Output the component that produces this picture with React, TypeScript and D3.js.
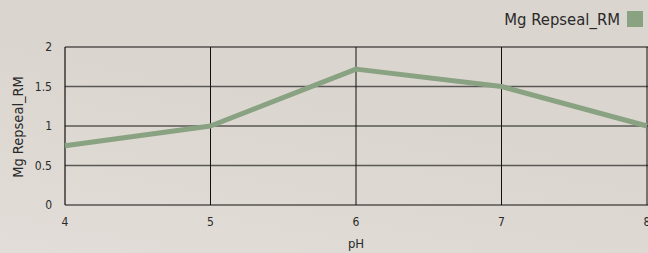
import React, { useEffect, useRef } from "react";
import * as d3 from "d3";

const phValues = [4, 5, 6, 7, 8];
const mgRepseal = [0.75, 1.0, 1.72, 1.5, 1.0];
const yTicks = [0, 0.5, 1, 1.5, 2];
const seriesName = "Mg Repseal_RM";

const W = 648;
const H = 253;
const FONT = "'DejaVu Sans Condensed', 'DejaVu Sans', sans-serif";

const App: React.FC = () => {
  const ref = useRef<SVGSVGElement | null>(null);

  useEffect(() => {
    if (!ref.current) return;
    const svg = d3.select(ref.current);
    svg.selectAll("*").remove();

    const margin = { left: 65, right: 1, top: 47, bottom: 48 };

    const x = d3.scaleLinear().domain([4, 8]).range([margin.left, W - margin.right]);
    const y = d3.scaleLinear().domain([0, 2]).range([H - margin.bottom, margin.top]);

    // background
    const defs = svg.append("defs");
    const grad = defs
      .append("linearGradient")
      .attr("id", "bg")
      .attr("x1", "0")
      .attr("y1", "1")
      .attr("x2", "0.35")
      .attr("y2", "0.3");
    grad.append("stop").attr("offset", "0").attr("stop-color", "#e2ddd8");
    grad.append("stop").attr("offset", "1").attr("stop-color", "#dbd5cf");
    svg.append("rect").attr("width", W).attr("height", H).attr("fill", "url(#bg)");

    // horizontal grid
    svg
      .append("g")
      .selectAll("line")
      .data(yTicks.filter((t) => t > 0 && t < 2))
      .enter()
      .append("line")
      .attr("x1", margin.left)
      .attr("x2", W)
      .attr("y1", (d) => y(d))
      .attr("y2", (d) => y(d))
      .attr("stroke", "#5a5855")
      .attr("stroke-width", 1.5);

    // vertical grid
    svg
      .append("g")
      .selectAll("line")
      .data(phValues.slice(1))
      .enter()
      .append("line")
      .attr("x1", (d) => x(d))
      .attr("x2", (d) => x(d))
      .attr("y1", y(2))
      .attr("y2", y(0))
      .attr("stroke", "#111")
      .attr("stroke-width", 1);

    // frame: top, left, bottom
    const frame = svg.append("g").attr("stroke", "#111").attr("stroke-width", 1.2);
    frame.append("line").attr("x1", x(4)).attr("x2", W).attr("y1", y(2)).attr("y2", y(2));
    frame.append("line").attr("x1", x(4)).attr("x2", W).attr("y1", y(0)).attr("y2", y(0));
    frame.append("line").attr("x1", x(4)).attr("x2", x(4)).attr("y1", y(2)).attr("y2", y(0));

    // line series
    const line = d3
      .line<number>()
      .x((_, i) => x(phValues[i]))
      .y((d) => y(d));
    svg
      .append("path")
      .datum(mgRepseal)
      .attr("d", line)
      .attr("fill", "none")
      .attr("stroke", "#88a282")
      .attr("stroke-width", 5)
      .attr("stroke-linejoin", "round");

    // y tick labels
    svg
      .append("g")
      .selectAll("text")
      .data(yTicks)
      .enter()
      .append("text")
      .attr("x", 52)
      .attr("y", (d) => y(d) + 4)
      .attr("text-anchor", "end")
      .style("font-family", FONT)
      .style("font-size", "12px")
      .attr("fill", "#2a2a2a")
      .text((d) => String(d));

    // x tick labels
    svg
      .append("g")
      .selectAll("text")
      .data(phValues)
      .enter()
      .append("text")
      .attr("x", (d) => x(d))
      .attr("y", y(0) + 21)
      .attr("text-anchor", "middle")
      .style("font-family", FONT)
      .style("font-size", "12px")
      .attr("fill", "#2a2a2a")
      .text((d) => String(d));

    // axis titles
    svg
      .append("text")
      .attr("x", (x(4) + x(8)) / 2)
      .attr("y", 248)
      .attr("text-anchor", "middle")
      .style("font-family", FONT)
      .style("font-size", "13px")
      .attr("fill", "#2a2a2a")
      .text("pH");

    svg
      .append("text")
      .attr("transform", `translate(23, ${(y(0) + y(2)) / 2 + 1}) rotate(-90)`)
      .attr("text-anchor", "middle")
      .style("font-family", FONT)
      .style("font-size", "14.5px")
      .attr("fill", "#2a2a2a")
      .text(seriesName);

    // legend
    svg
      .append("rect")
      .attr("x", 627)
      .attr("y", 11)
      .attr("width", 16)
      .attr("height", 16)
      .attr("fill", "#88a282");
    svg
      .append("text")
      .attr("x", 620)
      .attr("y", 25)
      .attr("text-anchor", "end")
      .style("font-family", FONT)
      .style("font-size", "16.5px")
      .attr("fill", "#2a2a2a")
      .text(seriesName);
  }, []);

  return (
    <svg
      ref={ref}
      width={W}
      height={H}
      style={{ position: "absolute", left: 0, top: 0, display: "block" }}
    />
  );
};

export default App;
